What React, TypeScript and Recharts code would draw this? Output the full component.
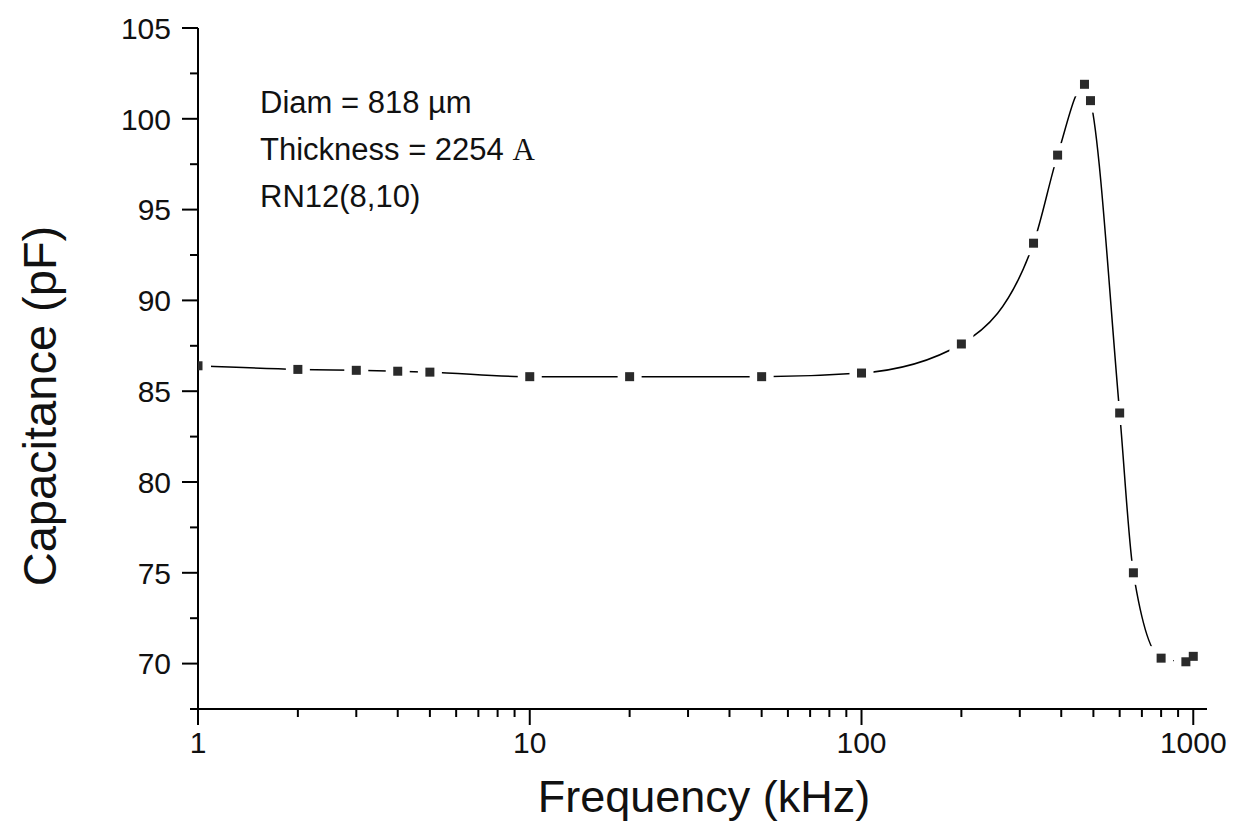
import React from 'react';
import { LineChart, Line, XAxis, YAxis } from 'recharts';

// Frequency (kHz) and measured capacitance (pF)
const FREQ = [1, 2, 3, 4, 5, 10, 20, 50, 100, 200, 330, 390, 470, 490, 600, 660, 800, 950, 1000];
const CAP = [86.4, 86.2, 86.15, 86.1, 86.05, 85.8, 85.8, 85.8, 86.0, 87.6, 93.15, 98.0, 101.9, 101.0, 83.8, 75.0, 70.3, 70.1, 70.4];

const X_MAJOR = [1, 10, 100, 1000];
const X_MINOR = [2, 3, 4, 5, 6, 7, 8, 9, 20, 30, 40, 50, 60, 70, 80, 90, 200, 300, 400, 500, 600, 700, 800, 900];
const Y_MAJOR = [70, 75, 80, 85, 90, 95, 100, 105];
const Y_MINOR = [67.5, 72.5, 77.5, 82.5, 87.5, 92.5, 97.5, 102.5];

const ANNOTATION = ['Diam = 818 \u00b5m', 'Thickness = 2254 ', 'RN12(8,10)'];

const data = FREQ.map((f, i) => ({ f, cap: CAP[i] }));

const FONT = '"Liberation Sans", Arial, sans-serif';

const XTick = (props: any) => {
  const { x, y, payload } = props;
  const v = payload.value;
  const major = X_MAJOR.includes(v);
  return (
    <g>
      <line x1={x} y1={y} x2={x} y2={y + (major ? 16 : 8)} stroke="#000" strokeWidth={2} />
      {major && (
        <text x={x} y={y + 44} textAnchor="middle" fontSize={30} fontFamily={FONT} fill="#111">
          {v}
        </text>
      )}
    </g>
  );
};

const YTick = (props: any) => {
  const { x, y, payload } = props;
  const v = payload.value;
  const major = Y_MAJOR.includes(v);
  return (
    <g>
      <line x1={x} y1={y} x2={x - (major ? 16 : 8)} y2={y} stroke="#000" strokeWidth={2} />
      {major && (
        <text x={x - 27} y={y} dy="0.36em" textAnchor="end" fontSize={30} fontFamily={FONT} fill="#111">
          {v}
        </text>
      )}
    </g>
  );
};

const renderHalo = (p: any) => {
  const { cx, cy, index } = p;
  if (cx == null || cy == null) return <g key={`h${index}`} />;
  if (index === 0) {
    return <rect key={`h${index}`} x={cx + 4} y={cy - 7} width={9} height={14} fill="#fff" />;
  }
  return <rect key={`h${index}`} x={cx - 12} y={cy - 12} width={24} height={24} fill="#fff" />;
};

const renderMarker = (p: any) => {
  const { cx, cy, index } = p;
  if (cx == null || cy == null) return <g key={`m${index}`} />;
  return <rect key={`m${index}`} x={cx - 4.5} y={cy - 4.5} width={9} height={9} fill="#2a2a2a" />;
};

export default function App() {
  return (
    <div style={{ position: 'relative', width: 1224, height: 817, background: '#fff' }}>
      <LineChart
        width={1224}
        height={817}
        data={data}
        margin={{ top: 20, right: 25, left: 90, bottom: 66 }}
      >
        <XAxis
          dataKey="f"
          type="number"
          scale="log"
          domain={[1, 1100]}
          allowDataOverflow
          ticks={[...X_MAJOR, ...X_MINOR].sort((a, b) => a - b)}
          interval={0}
          tickSize={0}
          tickMargin={0}
          tickLine={false}
          axisLine={{ stroke: '#000', strokeWidth: 2 }}
          tick={<XTick />}
          height={50}
        />
        <YAxis
          type="number"
          domain={[67.5, 105]}
          allowDataOverflow
          ticks={[...Y_MAJOR, ...Y_MINOR].sort((a, b) => a - b)}
          interval={0}
          tickSize={0}
          tickMargin={0}
          tickLine={false}
          axisLine={{ stroke: '#000', strokeWidth: 2 }}
          tick={<YTick />}
          width={100}
        />
        <Line
          dataKey="cap"
          type="monotone"
          stroke="#000"
          strokeWidth={1.5}
          dot={renderHalo}
          activeDot={false}
          isAnimationActive={false}
        />
        <Line
          dataKey="cap"
          type="monotone"
          stroke="none"
          dot={renderMarker}
          activeDot={false}
          isAnimationActive={false}
        />
      </LineChart>
      <svg
        width={1224}
        height={817}
        style={{ position: 'absolute', left: 0, top: 0, pointerEvents: 'none' }}
      >
        <g fontFamily={FONT} fontSize={31} fill="#111">
          <text x={252} y={105}>{ANNOTATION[0]}</text>
          <text x={252} y={152}>
            {ANNOTATION[1]}
            <tspan fontFamily='"Liberation Serif", "Times New Roman", serif'>A</tspan>
          </text>
          <text x={252} y={199}>{ANNOTATION[2]}</text>
        </g>
        <text x={696} y={804} textAnchor="middle" fontFamily={FONT} fontSize={45} fill="#111">
          Frequency (kHz)
        </text>
        <text
          x={0}
          y={0}
          transform="translate(48, 398) rotate(-90)"
          textAnchor="middle"
          fontFamily={FONT}
          fontSize={47}
          fill="#111"
        >
          Capacitance (pF)
        </text>
      </svg>
    </div>
  );
}
